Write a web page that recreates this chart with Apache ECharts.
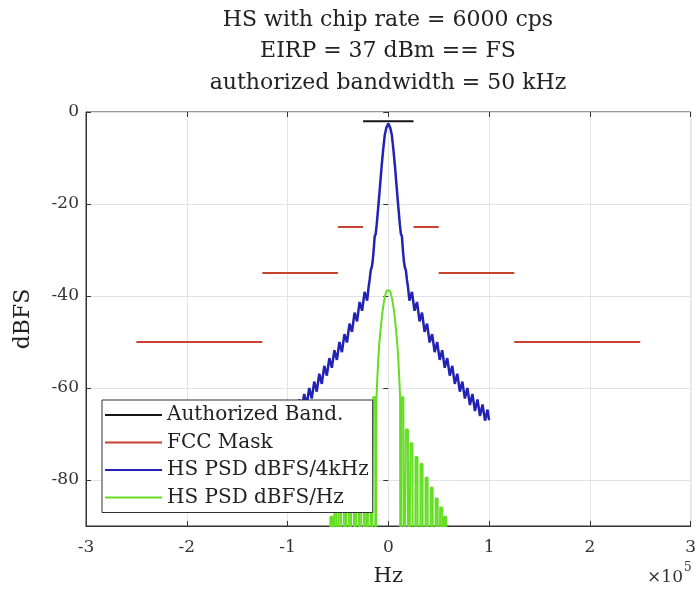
<!DOCTYPE html>
<html>
<head>
<meta charset="utf-8">
<script src="https://cdn.jsdelivr.net/npm/echarts@6/dist/echarts.min.js"></script>
<style>
html,body{margin:0;padding:0;background:#fff;}
#chart{width:699px;height:593px;}
</style>
</head>
<body>
<div id="chart"></div>
<script>
// ---------- data ----------
const titleLines = ['HS with chip rate = 6000 cps', 'EIRP = 37 dBm == FS', 'authorized bandwidth = 50 kHz'];
const seriesNames = ['Authorized Band.', 'FCC Mask', 'HS PSD dBFS/4kHz', 'HS PSD dBFS/Hz'];

// Authorized band (Hz, dBFS)
const authBandHz = [-25000, 25000];
const authBandDb = [-2, -2];

// FCC mask segments (Hz start, Hz end, dBFS)
const maskStartHz = [-250000, -125000, -50000, 25000, 50000, 125000];
const maskEndHz   = [-125000, -50000, -25000, 50000, 125000, 250000];
const maskDb      = [-50, -35, -25, -25, -35, -50];

// HS PSD dBFS/4kHz, positive-frequency half (spectrum is symmetric), kHz / dBFS
const blueHalfKHz = [0,2,3.5,5,6.5,8,9.5,10.5,11.5,12.5,13.5,14.5,15.5,16.5,17.5,18.5,19.5,
  21,23.5,26,28.5,31,33.5,36,38.5,41,43.5,46,48.5,51,53.5,56,58.5,61,63.5,66,68.5,71,73.5,76,78.5,81,83.5,86,88.5,91,93.5,96,98.5,100];
const blueHalfDb = [-2.5,-3.5,-5,-8,-11.5,-15.5,-19.5,-22,-24.5,-26.5,-27,-30,-32.5,-33.8,-34.5,-36.5,-38,
  -41,-39.1,-43.2,-41.3,-45.5,-43.6,-47.8,-46,-50.1,-48.3,-52.2,-50,-53.9,-51.8,-55.6,-53.5,-57.3,-55.2,-59.1,-56.9,-60.8,-58.6,-62.3,-60,-63.7,-61.3,-65,-62.5,-66.1,-63.6,-67.1,-64.7,-67];

// HS PSD dBFS/Hz, positive half: main lobe and spectral-line tops (kHz / dBFS)
const greenLobeKHz = [0,1.5,3,4.5,6,7.5,9,10,11,11.7];
const greenLobeDb  = [-38.4,-38.8,-39.8,-41.5,-43.8,-47,-50.5,-54,-58.4,-62];
const greenLineKHz = [14,18.5,23,28,33,38,43,48,52.5,56.5];
const greenLineDb  = [-62,-69,-72,-75,-76.5,-79.5,-81.7,-84,-86,-88];
const greenFloorDb = -130;   // nulls, far below the axis (clipped)

// ---------- build ----------
const SERIF = 'DejaVu Serif';
// y plotted as attenuation (inverse axis) so that ticks fall on multiples of 20 from 0
const yv = d => -d;

function mirror(khz, db) {
  const pts = [];
  for (let i = khz.length - 1; i >= 1; i--) pts.push([-khz[i] * 1000, yv(db[i])]);
  for (let i = 0; i < khz.length; i++) pts.push([khz[i] * 1000, yv(db[i])]);
  return pts;
}

const blueData = mirror(blueHalfKHz, blueHalfDb);

// green: right half sequence, then mirror
const gk = [], gd = [];
for (let i = 0; i < greenLobeKHz.length; i++) { gk.push(greenLobeKHz[i]); gd.push(greenLobeDb[i]); }
gk.push(12.1); gd.push(greenFloorDb);
for (let i = 0; i < greenLineKHz.length; i++) {
  const c = greenLineKHz[i];
  gk.push(c - 1.3, c - 1.0, c + 1.0, c + 1.3);
  gd.push(greenFloorDb, greenLineDb[i], greenLineDb[i], greenFloorDb);
}
const greenData = mirror(gk, gd);

const COL = { black: '#151515', red: '#c8432e', blue: '#2222b4', green: '#66dd25' };

const series = [];
series.push({
  name: seriesNames[0], type: 'line', symbol: 'none', z: 2, zlevel: 0,
  lineStyle: { color: COL.black, width: 2 }, itemStyle: { color: COL.black },
  data: authBandHz.map((h, i) => [h, yv(authBandDb[i])])
});
for (let i = 0; i < maskDb.length; i++) {
  series.push({
    name: seriesNames[1], type: 'line', symbol: 'none', z: 2,
    lineStyle: { color: COL.red, width: 2 }, itemStyle: { color: COL.red },
    data: [[maskStartHz[i], yv(maskDb[i])], [maskEndHz[i], yv(maskDb[i])]]
  });
}
series.push({
  name: seriesNames[2], type: 'line', symbol: 'none', z: 2,
  lineStyle: { color: COL.blue, width: 2.5 }, itemStyle: { color: COL.blue },
  data: blueData
});
series.push({
  name: seriesNames[3], type: 'line', symbol: 'none', z: 2,
  lineStyle: { color: COL.green, width: 2 }, itemStyle: { color: COL.green },
  data: greenData
});

const axisText = { fontFamily: SERIF, fontSize: 17, color: '#333' };
const grid = { left: 86, right: 8, top: 112, bottom: 67 };

const chart = echarts.init(document.getElementById('chart'), null, { renderer: 'canvas' });
chart.setOption({
  animation: false,
  backgroundColor: '#fff',
  grid: Object.assign({ show: true, borderColor: '#333', borderWidth: 1, backgroundColor: 'transparent' }, grid),
  xAxis: [{
    type: 'value', min: -300000, max: 300000, interval: 100000,
    axisLine: { show: true, onZero: false, lineStyle: { color: '#333' } },
    axisTick: { show: true, inside: true, length: 5, lineStyle: { color: '#333' } },
    axisLabel: Object.assign({ margin: 13, formatter: v => String(Math.round(v / 100000)) }, axisText),
    splitLine: { show: true, lineStyle: { color: '#e3e3e3', width: 1 } },
    name: 'Hz', nameLocation: 'middle', nameGap: 40,
    nameTextStyle: { fontFamily: SERIF, fontSize: 21, color: '#222' }
  }, {
    type: 'value', position: 'top', min: -300000, max: 300000, interval: 100000,
    axisLine: { show: false }, axisLabel: { show: false }, splitLine: { show: false },
    axisTick: { show: true, inside: true, length: 5, lineStyle: { color: '#333' } }
  }],
  yAxis: [{
    type: 'value', inverse: true, min: 0, max: 90, interval: 20,
    axisLine: { show: true, onZero: false, lineStyle: { color: '#333' } },
    axisTick: { show: true, inside: true, length: 5, lineStyle: { color: '#333' } },
    axisLabel: Object.assign({ margin: 7, showMaxLabel: false, formatter: v => (v === 0 ? '0' : '-' + v) }, axisText),
    splitLine: { show: true, lineStyle: { color: '#e3e3e3', width: 1 } },
    name: 'dBFS', nameLocation: 'middle', nameGap: 52, nameRotate: 90,
    nameTextStyle: { fontFamily: SERIF, fontSize: 22, color: '#222' }
  }, {
    type: 'value', position: 'right', inverse: true, min: 0, max: 90, interval: 20,
    axisLine: { show: false }, axisLabel: { show: false }, splitLine: { show: false },
    axisTick: { show: true, inside: true, length: 5, lineStyle: { color: '#333' } }
  }],
  legend: {
    orient: 'vertical', left: 102, top: 400, z: 20, zlevel: 1,
    backgroundColor: '#fff', borderColor: '#333', borderWidth: 1, borderRadius: 0,
    padding: [5, 4, 5, 3], icon: 'rect', itemWidth: 57, itemHeight: 2, itemGap: 7.5,
    textStyle: { fontFamily: SERIF, fontSize: 20, color: '#222', lineHeight: 20 },
    data: seriesNames
  },
  graphic: [
    { type: 'text', x: 388, y: 20, style: { text: titleLines[0], font: '22px "' + SERIF + '"', fill: '#222', textAlign: 'center', textVerticalAlign: 'middle' } },
    { type: 'text', x: 388, y: 51, style: { text: titleLines[1], font: '22px "' + SERIF + '"', fill: '#222', textAlign: 'center', textVerticalAlign: 'middle' } },
    { type: 'text', x: 388, y: 83, style: { text: titleLines[2], font: '22px "' + SERIF + '"', fill: '#222', textAlign: 'center', textVerticalAlign: 'middle' } },
    { type: 'text', x: 683, y: 578, style: { text: '×10', font: '17px "' + SERIF + '"', fill: '#333', textAlign: 'right', textVerticalAlign: 'middle' } },
    { type: 'text', x: 684, y: 568, style: { text: '5', font: '12px "' + SERIF + '"', fill: '#333', textAlign: 'left', textVerticalAlign: 'middle' } }
  ],
  series: series
});
</script>
</body>
</html>
